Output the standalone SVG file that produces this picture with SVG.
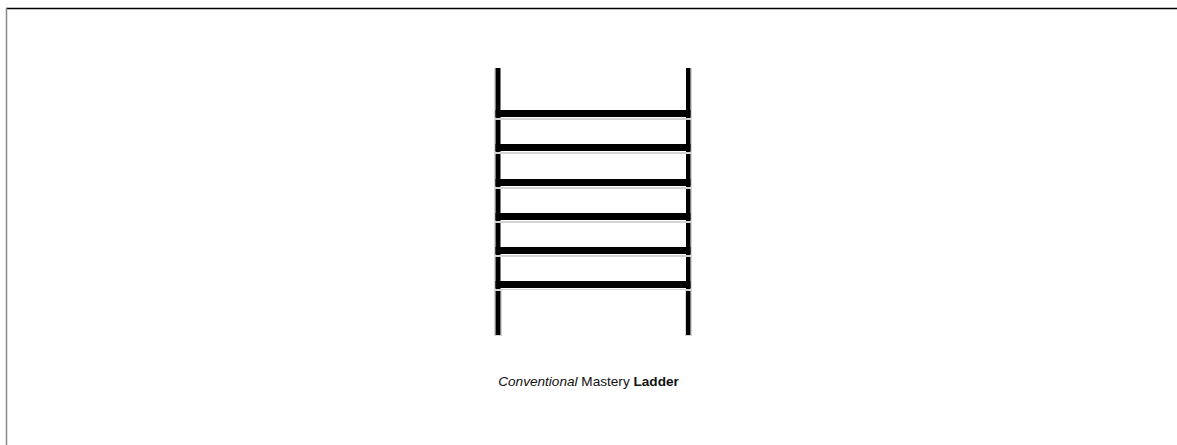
<svg xmlns="http://www.w3.org/2000/svg" width="1177" height="445" viewBox="0 0 1177 445">
<style>
.sep{fill:none;stroke:#d4d4d4;stroke-width:1}
.blk{fill:#000}
.lbl{font-family:"Liberation Sans",Arial,sans-serif;font-size:13.6px;fill:#111}
</style>
<rect width="1177" height="445" fill="#fff"/>
<g id="frame">
<line x1="6" y1="8.5" x2="1177" y2="8.5" stroke="#000" stroke-width="1.5"/>
<line x1="6.5" y1="8" x2="6.5" y2="445" stroke="#888" stroke-width="1.5"/>
</g>
<g id="ladder">
<g id="rung1">
<path class="sep" d="M494.5 68 V118.5 H691.5 V68"/>
<rect class="blk" x="495.5" y="68" width="5" height="50"/>
<rect class="blk" x="686" y="68" width="4.5" height="50"/>
<rect class="blk" x="495.5" y="110" width="195" height="7"/>
</g>
<g id="rung2">
<rect class="sep" x="494.5" y="119.5" width="197" height="33"/>
<rect class="blk" x="495.5" y="120" width="5" height="32"/>
<rect class="blk" x="686" y="120" width="4.5" height="32"/>
<rect class="blk" x="495.5" y="144" width="195" height="7"/>
</g>
<g id="rung3">
<rect class="sep" x="494.5" y="153.5" width="197" height="34"/>
<rect class="blk" x="495.5" y="154" width="5" height="33"/>
<rect class="blk" x="686" y="154" width="4.5" height="33"/>
<rect class="blk" x="495.5" y="179" width="195" height="7"/>
</g>
<g id="rung4">
<rect class="sep" x="494.5" y="188.5" width="197" height="33"/>
<rect class="blk" x="495.5" y="189" width="5" height="32"/>
<rect class="blk" x="686" y="189" width="4.5" height="32"/>
<rect class="blk" x="495.5" y="213" width="195" height="7"/>
</g>
<g id="rung5">
<rect class="sep" x="494.5" y="222.5" width="197" height="33"/>
<rect class="blk" x="495.5" y="223" width="5" height="32"/>
<rect class="blk" x="686" y="223" width="4.5" height="32"/>
<rect class="blk" x="495.5" y="247" width="195" height="7"/>
</g>
<g id="rung6">
<rect class="sep" x="494.5" y="256.5" width="197" height="33"/>
<rect class="blk" x="495.5" y="257" width="5" height="32"/>
<rect class="blk" x="686" y="257" width="4.5" height="32"/>
<rect class="blk" x="495.5" y="281" width="195" height="7"/>
</g>
<g id="rails-bottom">
<rect class="sep" x="494.5" y="290.5" width="7" height="45"/>
<rect class="sep" x="685.5" y="290.5" width="6" height="45"/>
<rect class="blk" x="495.5" y="291" width="5" height="44"/>
<rect class="blk" x="686" y="291" width="4.5" height="44"/>
</g>
</g>
<g id="caption">
<text class="lbl" x="588.5" y="386" text-anchor="middle"><tspan font-style="italic">Conventional</tspan> Mastery <tspan font-weight="bold">Ladder</tspan></text>
</g>
</svg>
